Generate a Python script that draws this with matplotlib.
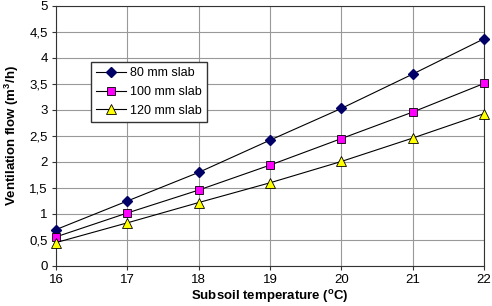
"""Ventilation flow vs subsoil temperature for three slab thicknesses."""

import matplotlib
matplotlib.use("Agg")
import matplotlib.pyplot as plt
from matplotlib.ticker import FuncFormatter, MultipleLocator

temperature = [16, 17, 18, 19, 20, 21, 22]
flow_80 = [0.70, 1.25, 1.80, 2.42, 3.03, 3.69, 4.37]
flow_100 = [0.56, 1.02, 1.46, 1.94, 2.45, 2.96, 3.51]
flow_120 = [0.45, 0.83, 1.22, 1.60, 2.01, 2.46, 2.93]
labels = ["80 mm slab", "100 mm slab", "120 mm slab"]

plt.rcParams["font.family"] = ["Liberation Sans", "DejaVu Sans"]

fig = plt.figure(figsize=(4.92, 3.06), dpi=100)
ax = fig.add_axes([56 / 492, 40 / 306, 428 / 492, 260 / 306])

ax.plot(temperature, flow_80, color="black", lw=0.8, marker="D", ms=5,
        mfc="#000066", mec="#000066", label=labels[0], clip_on=False, zorder=3)
ax.plot(temperature, flow_100, color="black", lw=0.8, marker="s", ms=6,
        mfc="#ff00ff", mec="black", mew=0.6, label=labels[1], clip_on=False, zorder=3)
ax.plot(temperature, flow_120, color="black", lw=0.8, marker="^", ms=7,
        mfc="#ffff00", mec="black", mew=0.6, label=labels[2], clip_on=False, zorder=3)

ax.set_xlim(16, 22)
ax.set_ylim(0, 5)
ax.xaxis.set_major_locator(MultipleLocator(1))
ax.yaxis.set_major_locator(MultipleLocator(0.5))
ax.yaxis.set_major_formatter(FuncFormatter(lambda v, _: f"{v:g}".replace(".", ",")))
ax.grid(True, color="#999999", lw=0.8)
ax.set_axisbelow(True)
for side in ax.spines.values():
    side.set_color("#333333")
    side.set_linewidth(0.8)
ax.tick_params(labelsize=9.5, length=3, color="#333333")
ax.tick_params(axis="x", pad=3)
ax.tick_params(axis="y", pad=3)

ax.set_xlabel("Subsoil temperature ($\\mathregular{^o}$C)", fontsize=9.5,
              fontweight="bold", va="bottom")
ax.xaxis.set_label_coords(0.5, -39 / 260)
ax.set_ylabel("Ventilation flow (m$\\mathregular{^3}$/h)", fontsize=9.5,
              fontweight="bold", va="center", rotation_mode="anchor")
ax.yaxis.set_label_coords(-44 / 428, 0.5)

ax.legend(loc="upper left", bbox_to_anchor=(35 / 428, 204 / 260), fontsize=9,
          frameon=True, fancybox=False, edgecolor="#333333", framealpha=1,
          borderpad=0.4, labelspacing=0.55, handlelength=2.4, handletextpad=0.3,
          borderaxespad=0)

fig.savefig("out.png", dpi=100)
